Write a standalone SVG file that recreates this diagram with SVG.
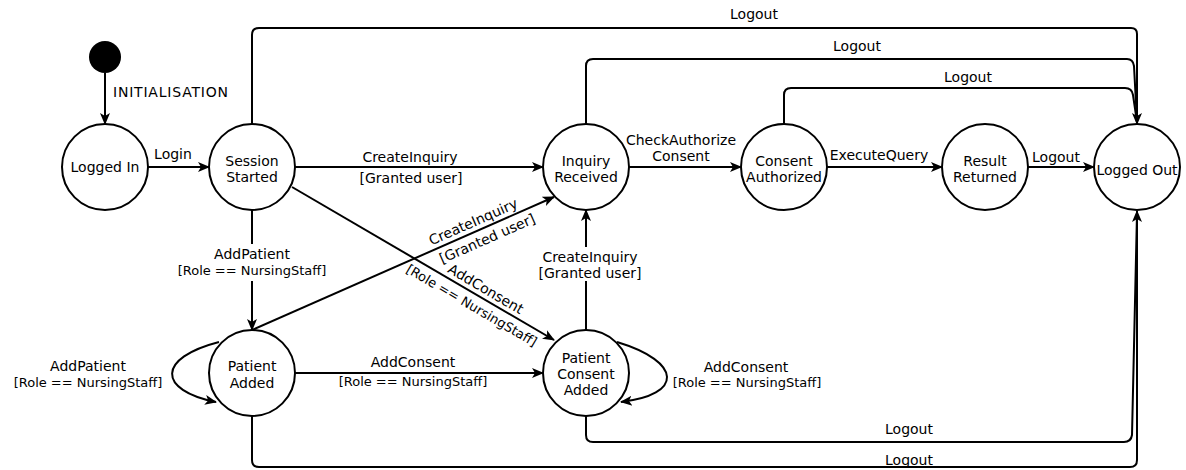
<svg xmlns="http://www.w3.org/2000/svg" width="1186" height="470" viewBox="0 0 1186 470">
<style>
.st{fill:#fff;stroke:#000;stroke-width:2}
.ed{fill:none;stroke:#000;stroke-width:2}
text{font-family:"DejaVu Sans","Liberation Sans",sans-serif;font-size:14px;fill:#000;text-anchor:middle}
.g{font-size:13px}
.bg{fill:#fff;stroke:none}
</style>
<defs>
<marker id="ar" viewBox="0 0 12 12" refX="11" refY="6" markerWidth="12" markerHeight="12" markerUnits="userSpaceOnUse" orient="auto">
<path d="M0,1 L12,6 L0,11 L3,6 z" fill="#000"/>
</marker>
</defs>
<g id="connectors">
<path class="ed" d="M105,73 V124" marker-end="url(#ar)"/>
<path class="ed" d="M148,167 H209" marker-end="url(#ar)"/>
<path class="ed" d="M295,167 H543" marker-end="url(#ar)"/>
<path class="ed" d="M629,167 H741" marker-end="url(#ar)"/>
<path class="ed" d="M827,167 H942" marker-end="url(#ar)"/>
<path class="ed" d="M1028,167 H1094" marker-end="url(#ar)"/>
<path class="ed" d="M252,210 V330" marker-end="url(#ar)"/>
<path class="ed" d="M295,373 H543" marker-end="url(#ar)"/>
<path class="ed" d="M586,330 V210" marker-end="url(#ar)"/>
<path class="ed" d="M252,330 L554,197" marker-end="url(#ar)"/>
<path class="ed" d="M292,187 L554,340" marker-end="url(#ar)"/>
<path class="ed" d="M219,342 C157,358 157,390 216,402" marker-end="url(#ar)"/>
<path class="ed" d="M617,342 C683,362 683,395 621,402" marker-end="url(#ar)"/>
<path class="ed" d="M586,124 V66 Q586,59 593,59 H1127 Q1133,59 1134,66 L1137,122"/>
<path class="ed" d="M784,124 V95 Q784,88 791,88 H1125 Q1132,88 1133,95 L1137,122"/>
<path class="ed" d="M252,124 V35 Q252,28 259,28 H1131 Q1137,28 1137,34 V124" marker-end="url(#ar)"/>
<path class="ed" d="M586,416 V435 Q586,442 593,442 H1124 Q1131,442 1132,435 L1137,213"/>
<path class="ed" d="M252,416 V460 Q252,467 259,467 H1130 Q1137,467 1137,460 V211" marker-end="url(#ar)"/>
<rect class="bg" x="175" y="244" width="154" height="37"/>
<rect class="bg" x="537" y="247" width="106" height="34"/>
</g>
<g id="labels">
<text x="113" y="97" style="text-anchor:start" textLength="115">INITIALISATION</text>
<text x="173" y="159">Login</text>
<text x="410" y="162">CreateInquiry</text>
<text x="411" y="183">[Granted user]</text>
<text x="681" y="145">CheckAuthorize</text>
<text x="681" y="161">Consent</text>
<text x="879" y="160">ExecuteQuery</text>
<text x="1056" y="162">Logout</text>
<text x="754" y="19">Logout</text>
<text x="857" y="51">Logout</text>
<text x="968" y="82">Logout</text>
<text x="909" y="434">Logout</text>
<text x="909" y="465">Logout</text>
<text x="252" y="259">AddPatient</text>
<text class="g" x="252" y="275">[Role == NursingStaff]</text>
<text x="590" y="262">CreateInquiry</text>
<text x="590" y="278">[Granted user]</text>
<text x="413" y="367">AddConsent</text>
<text class="g" x="413" y="386">[Role == NursingStaff]</text>
<text x="88" y="371">AddPatient</text>
<text class="g" x="88" y="387">[Role == NursingStaff]</text>
<text x="746" y="372">AddConsent</text>
<text class="g" x="747" y="387">[Role == NursingStaff]</text>
<g transform="translate(479,230) rotate(-23.8)">
<text x="-2" y="-5">CreateInquiry</text>
<text x="4" y="16">[Granted user]</text>
</g>
<g transform="translate(480,297) rotate(30.3)">
<text x="1" y="-5">AddConsent</text>
<text class="g" x="-3" y="16">[Role == NursingStaff]</text>
</g>
</g>
<g id="initial"><circle cx="105" cy="57" r="16" fill="#000"/></g>
<g id="logged-in"><circle class="st" cx="105" cy="167" r="43"/><text x="105" y="172">Logged In</text></g>
<g id="session-started"><circle class="st" cx="252" cy="167" r="43"/><text x="252" y="166">Session</text><text x="252" y="182">Started</text></g>
<g id="inquiry-received"><circle class="st" cx="586" cy="167" r="43"/><text x="586" y="166">Inquiry</text><text x="586" y="182">Received</text></g>
<g id="consent-authorized"><circle class="st" cx="784" cy="167" r="43"/><text x="784" y="166">Consent</text><text x="784" y="182">Authorized</text></g>
<g id="result-returned"><circle class="st" cx="985" cy="167" r="43"/><text x="985" y="166">Result</text><text x="985" y="182">Returned</text></g>
<g id="logged-out"><circle class="st" cx="1137" cy="167" r="43"/><text x="1137" y="175">Logged Out</text></g>
<g id="patient-added"><circle class="st" cx="252" cy="373" r="43"/><text x="252" y="371">Patient</text><text x="252" y="388">Added</text></g>
<g id="patient-consent-added"><circle class="st" cx="586" cy="373" r="43"/><text x="586" y="363">Patient</text><text x="586" y="379">Consent</text><text x="586" y="395">Added</text></g>
</svg>
